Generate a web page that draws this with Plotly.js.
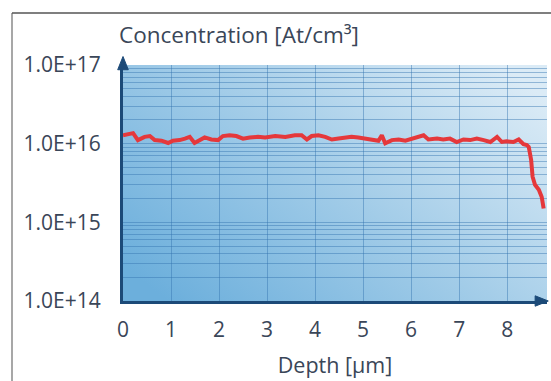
<!DOCTYPE html>
<html>
<head>
<meta charset="utf-8">
<script src="https://cdn.plot.ly/plotly-3.0.1.min.js"></script>
<style>html,body{margin:0;padding:0;background:#fff;}#chart{width:551px;height:381px;}</style>
</head>
<body>
<div id="chart"></div>
<script>
// Depth in µm
const depth = [0.00,0.10,0.21,0.31,0.45,0.56,0.66,0.80,0.94,1.04,1.18,1.29,1.39,1.49,1.60,1.70,1.84,1.98,2.08,2.22,2.36,2.50,2.64,2.81,2.96,3.17,3.38,3.58,3.72,3.83,3.93,4.07,4.21,4.35,4.49,4.63,4.76,4.90,5.04,5.18,5.32,5.39,5.46,5.60,5.74,5.88,6.01,6.12,6.26,6.36,6.54,6.67,6.81,6.95,7.09,7.23,7.37,7.51,7.65,7.79,7.89,7.99,8.13,8.24,8.34,8.41,8.45,8.50,8.53,8.58,8.66,8.72,8.76];
// Concentration in At/cm³
const concentration = [1.28e16,1.30e16,1.36e16,1.11e16,1.22e16,1.25e16,1.11e16,1.09e16,1.02e16,1.09e16,1.11e16,1.16e16,1.22e16,1.02e16,1.13e16,1.20e16,1.13e16,1.11e16,1.25e16,1.28e16,1.25e16,1.16e16,1.20e16,1.22e16,1.20e16,1.25e16,1.22e16,1.28e16,1.28e16,1.13e16,1.25e16,1.28e16,1.22e16,1.13e16,1.16e16,1.20e16,1.22e16,1.20e16,1.16e16,1.11e16,1.09e16,1.28e16,1.01e16,1.11e16,1.13e16,1.09e16,1.16e16,1.22e16,1.28e16,1.13e16,1.16e16,1.13e16,1.16e16,1.05e16,1.13e16,1.11e16,1.16e16,1.11e16,1.05e16,1.22e16,1.05e16,1.07e16,1.05e16,1.13e16,9.85e15,9.6e15,9.1e15,6.2e15,3.8e15,3.0e15,2.6e15,2.1e15,1.5e15];

const xTickVals = [0,1,2,3,4,5,6,7,8];
const xTickText = ['0','1','2','3','4','5','6','7','8'];
const yDecades = [1e14,1e15,1e16,1e17];
const yDecadeLabels = ['1.0E+14','1.0E+15','1.0E+16','1.0E+17'];
const minorMultipliers = [2,3,4,5,6,7,8,9];

const yTickVals = [], yTickText = [];
yDecades.forEach((d,i)=>{
  yTickVals.push(d); yTickText.push(yDecadeLabels[i]);
  if (i < yDecades.length-1) minorMultipliers.forEach(m=>{ yTickVals.push(d*m); yTickText.push(''); });
});

const gradSvg = '<svg xmlns="http://www.w3.org/2000/svg" width="400" height="240" preserveAspectRatio="none">' +
  '<defs><linearGradient id="g" x1="0" y1="0.85" x2="1" y2="0.15">' +
  '<stop offset="0" stop-color="#6cafdc"/><stop offset="0.5" stop-color="#a2cce8"/><stop offset="1" stop-color="#dbebf6"/>' +
  '</linearGradient></defs><rect width="400" height="240" fill="url(#g)"/></svg>';
const gradUri = 'data:image/svg+xml;base64,' + btoa(gradSvg);

const navy = '#1c4a78';
const textColor = '#3a4658';
const font = 'Open Sans, Noto Sans, sans-serif';
const gridColor = 'rgba(50,115,175,0.45)';

const trace = {
  x: depth, y: concentration, type: 'scatter', mode: 'lines',
  line: {color: '#e5383b', width: 4, shape: 'linear'},
  hoverinfo: 'skip'
};

const layout = {
  width: 551, height: 381,
  margin: {l: 123, r: 4, t: 65, b: 80, pad: 0},
  paper_bgcolor: '#ffffff', plot_bgcolor: 'rgba(0,0,0,0)',
  showlegend: false,
  font: {family: font, color: textColor, size: 21},
  xaxis: {
    range: [0, 8.83], tickvals: xTickVals, ticktext: xTickText,
    showgrid: true, gridcolor: gridColor, gridwidth: 1,
    zeroline: false, showline: true, linecolor: navy, linewidth: 3,
    ticks: '', ticklabelstandoff: 8,
    tickfont: {family: font, size: 21, color: textColor},
    title: {text: 'Depth [µm]', font: {family: font, size: 21.5, color: textColor}, standoff: 16},
    fixedrange: true
  },
  yaxis: {
    type: 'log', range: [14, 17], tickvals: yTickVals, ticktext: yTickText,
    showgrid: true, gridcolor: gridColor, gridwidth: 1,
    zeroline: false, showline: true, linecolor: navy, linewidth: 3,
    ticks: '', ticklabelstandoff: 15,
    tickfont: {family: font, size: 21, color: textColor},
    fixedrange: true
  },
  images: [{
    source: gradUri, xref: 'paper', yref: 'paper', x: 0, y: 1,
    sizex: 1, sizey: 1, sizing: 'stretch', layer: 'below', xanchor: 'left', yanchor: 'top'
  }],
  annotations: [{
    text: 'Concentration [At/cm³]', xref: 'paper', yref: 'paper',
    x: -0.015, y: 1.131, xanchor: 'left', yanchor: 'middle', showarrow: false,
    font: {family: font, size: 22.5, color: textColor}
  }],
  shapes: [
    {type: 'line', xref: 'paper', yref: 'paper', x0: -0.2618, x1: -0.2618, y0: -0.5, y1: 1.2203, line: {color: '#8a8a8a', width: 1.5}},
    {type: 'line', xref: 'paper', yref: 'paper', x0: -0.2618, x1: 1.2, y0: 1.2203, y1: 1.2203, line: {color: '#555555', width: 1.5}},
    {type: 'path', xref: 'paper', yref: 'paper', path: 'M -0.0125 0.98 L 0 1.036 L 0.0125 0.98 Z', fillcolor: navy, line: {color: navy, width: 1}},
    {type: 'path', xref: 'paper', yref: 'paper', path: 'M 0.972 -0.022 L 1.003 0 L 0.972 0.022 Z', fillcolor: navy, line: {color: navy, width: 1}}
  ]
};

Plotly.newPlot('chart', [trace], layout, {staticPlot: true, displayModeBar: false});
</script>
</body>
</html>
